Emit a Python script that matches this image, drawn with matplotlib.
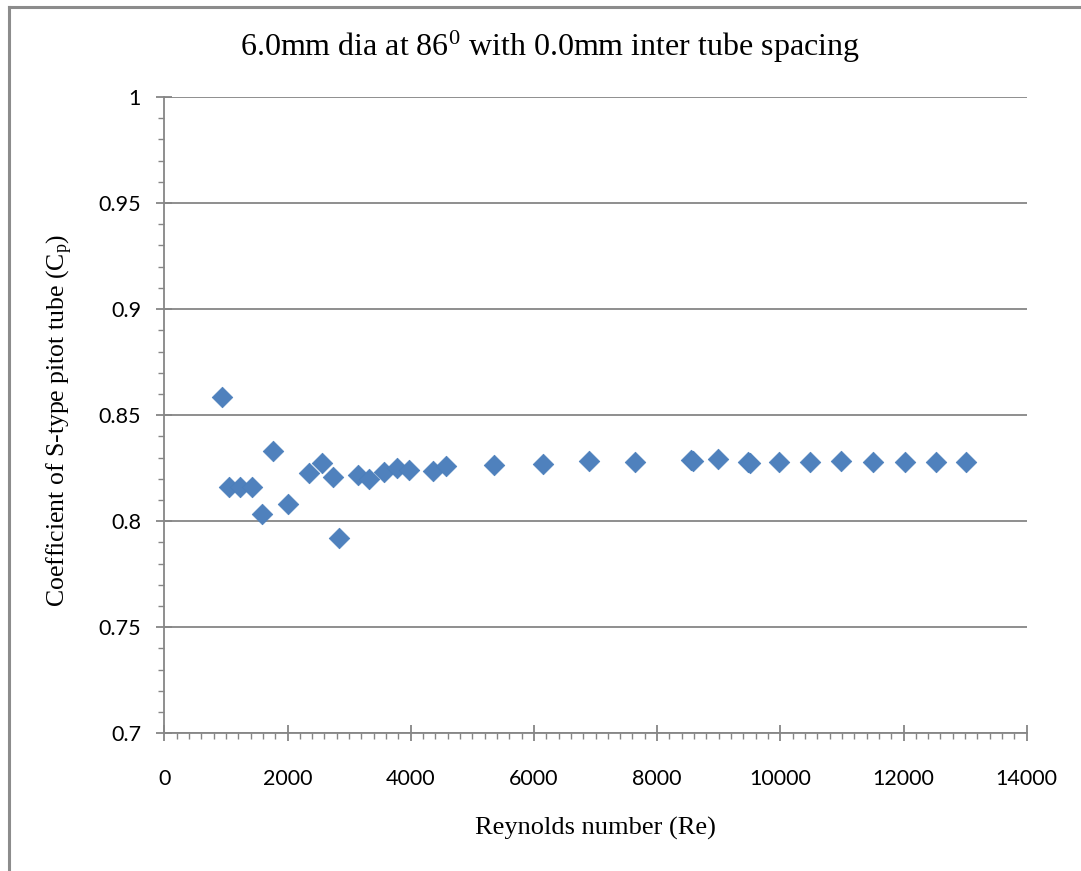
import matplotlib
matplotlib.use("Agg")
import matplotlib.pyplot as plt
from matplotlib.ticker import MultipleLocator, FixedLocator
from matplotlib.lines import Line2D

plt.rcParams['mathtext.fontset'] = 'custom'
plt.rcParams['mathtext.rm'] = 'Liberation Serif'
plt.rcParams['mathtext.it'] = 'Liberation Serif'

# Data
reynolds = [932, 1055, 1234, 1424, 1586, 1769, 2003, 2354, 2555, 2744, 2831,
            3149, 3318, 3567, 3773, 3968, 4367, 4573, 5352, 6140, 6896, 7643,
            8550, 8590, 8994, 9480, 9510, 9984, 10479, 10992, 11510, 12029,
            12529, 13015]
cp = [0.8585, 0.8163, 0.8163, 0.8163, 0.8033, 0.8333, 0.8082, 0.8226, 0.8274,
      0.8210, 0.7920, 0.8218, 0.8198, 0.8234, 0.8250, 0.8242, 0.8239, 0.8261,
      0.8263, 0.8268, 0.8286, 0.8281, 0.8287, 0.8282, 0.8291, 0.8280, 0.8276,
      0.8280, 0.8280, 0.8283, 0.8278, 0.8280, 0.8278, 0.8278]

x_ticks = [0, 2000, 4000, 6000, 8000, 10000, 12000, 14000]
x_tick_labels = ["0", "2000", "4000", "6000", "8000", "10000", "12000", "14000"]
y_ticks = [0.7, 0.75, 0.8, 0.85, 0.9, 0.95, 1.0]
y_tick_labels = ["0.7", "0.75", "0.8", "0.85", "0.9", "0.95", "1"]

title = r"6.0mm dia at 86$^{\mathrm{0}}$ with 0.0mm inter tube spacing"
xlabel = "Reynolds number (Re)"
ylabel = r"Coefficient of S-type pitot tube (C$_{\mathrm{p}}$)"

W, H = 1081, 871
fig = plt.figure(figsize=(W / 100, H / 100), dpi=100)
ax = fig.add_axes([164.3 / W, 1 - 733.3 / H, (1026.7 - 164.3) / W, (733.3 - 97) / H])

gray = '#868686'
ax.scatter(reynolds, cp, marker='D', s=10.5 ** 2, color='#4F81BD',
           edgecolors='#4A7EBB', linewidths=0.5, zorder=3, clip_on=False)

ax.set_xlim(0, 14000)
ax.set_ylim(0.7, 1.0)
ax.xaxis.set_major_locator(FixedLocator(x_ticks))
ax.set_xticklabels(x_tick_labels)
ax.yaxis.set_major_locator(FixedLocator(y_ticks))
ax.set_yticklabels(y_tick_labels)
ax.xaxis.set_minor_locator(MultipleLocator(200))
ax.yaxis.set_minor_locator(MultipleLocator(0.01))

for s in ['top', 'right']:
    ax.spines[s].set_visible(False)
for s in ['left', 'bottom']:
    ax.spines[s].set_color(gray)
    ax.spines[s].set_linewidth(1.3)

ax.grid(axis='y', which='major', color=gray, linewidth=1.3, zorder=1)
ax.set_axisbelow(True)

tick_font = 'Lato'
ax.tick_params(axis='both', which='major', direction='inout', length=11.5,
               width=1.3, color=gray, labelsize=15.5, labelcolor='black')
ax.tick_params(axis='both', which='minor', direction='out', length=4.3,
               width=1.0, color=gray)
ax.tick_params(axis='x', which='major', pad=20)
ax.tick_params(axis='y', which='major', pad=11)
for lab in ax.get_xticklabels() + ax.get_yticklabels():
    lab.set_fontfamily(tick_font)

fig.text(550 / W, 1 - 47 / H, title, ha='center', va='center',
         fontsize=23, family='Liberation Serif')
fig.text(595.5 / W, 1 - 828 / H, xlabel, ha='center', va='center',
         fontsize=19, family='Liberation Serif')
fig.text(60 / W, 1 - 420 / H, ylabel, ha='center', va='center', rotation=90,
         fontsize=18.5, family='Liberation Serif')

# Outer chart border
fig.add_artist(Line2D([9 / W, 9 / W], [0, 1 - 7 / H], transform=fig.transFigure,
                      color='#8c8c8c', linewidth=2.2))
fig.add_artist(Line2D([9 / W, 1], [1 - 7 / H, 1 - 7 / H], transform=fig.transFigure,
                      color='#8c8c8c', linewidth=2.2))

fig.savefig('out.png', dpi=100)
